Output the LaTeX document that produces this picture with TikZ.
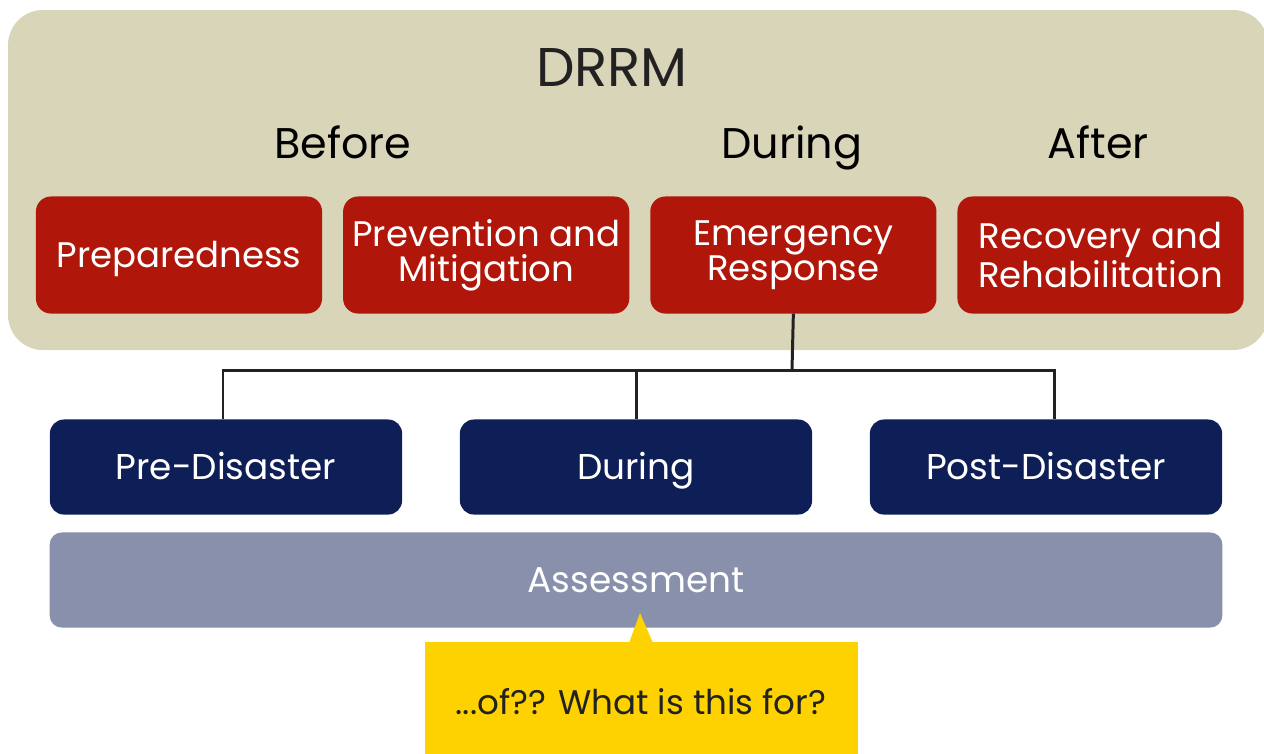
\documentclass[tikz,border=0pt]{standalone}
\usepackage{fontspec}
\setmainfont{Poppins}
\usetikzlibrary{positioning}

\definecolor{bandbg}{HTML}{D9D5B8}
\definecolor{phasered}{HTML}{B0170A}
\definecolor{stagenavy}{HTML}{0E1F58}
\definecolor{assessgray}{HTML}{8890AB}
\definecolor{noteyellow}{HTML}{FED100}
\definecolor{inkdark}{HTML}{222222}

\tikzset{
  phase/.style={fill=phasered, text=white, rounded corners=0.15cm, minimum width=2.86cm,
    minimum height=1.17cm, align=center, font=\fontsize{10.1}{10}\selectfont, inner sep=0pt,
    outer sep=0pt},
  stage/.style={fill=stagenavy, text=white, rounded corners=0.14cm, minimum width=3.52cm,
    minimum height=0.95cm, font=\fontsize{10.2}{11.5}\selectfont, inner sep=0pt,
    text height=0.7em, text depth=0pt},
  head/.style={text=black, font=\fontsize{12.2}{14}\selectfont, inner sep=0pt,
    text height=0.7em, text depth=0pt},
  link/.style={draw=inkdark, line width=0.85pt},
}

\begin{document}
\begin{tikzpicture}[x=0.01cm, y=-0.01cm]

      \useasboundingbox (0,0) rectangle (1264,753);

      % band
      \fill[bandbg, rounded corners=0.35cm] (8,10) rectangle (1268,350);
      \node[text=inkdark, font=\fontsize{15.5}{16}\selectfont, inner sep=0pt,
        text height=0.7em, text depth=0pt] (drrm) at (612,74) {DRRM};
      \node[head] (before) at (343,146) {Before};
      \node[head] (during) at (792,146) {During};
      \node[head] (after) at (1098,146) {After};

      % phases
      \node[phase, text height=0.7em, text depth=0pt] (prep) at (179,255) {Preparedness};
      \node[phase, right=0.21cm of prep] (prev) {Prevention and\\Mitigation};
      \node[phase, right=0.21cm of prev] (emer) {Emergency\\Response};
      \node[phase, right=0.21cm of emer] (reco) {Recovery and\\Rehabilitation};

      % stages
      \node[stage] (pre) at (226,467) {Pre-Disaster};
      \node[stage] (mid) at (636,467) {During};
      \node[stage] (post) at (1046,467) {Post-Disaster};

      \coordinate (hub) at (792,370);
      \draw[link] (emer.south) -- (hub);
      \draw[link] ([xshift=-0.03cm]pre.north) -- ([xshift=-0.03cm]pre.north |- hub)
        -- ([xshift=0.08cm]post.north |- hub) -- ([xshift=0.08cm]post.north);
      \draw[link] (mid.north |- hub) -- (mid.north);

      % assessment
      \node[fill=assessgray, text=white, rounded corners=0.12cm, minimum width=11.72cm,
        minimum height=0.95cm, font=\fontsize{10.2}{11.5}\selectfont, inner sep=0pt,
        text height=0.7em, text depth=0pt] (assess) at (636,580) {Assessment};

      % note
      \fill[noteyellow] (425,642) rectangle (858,760);
      \fill[noteyellow] (629,643) -- (640,613) -- (653,643) -- cycle;
      \node[text=inkdark, font=\fontsize{9.7}{12}\selectfont, inner sep=0pt,
        text height=0.7em, text depth=0pt] (note) at (641,702) {...of?? What is this for?};

\end{tikzpicture}
\end{document}
